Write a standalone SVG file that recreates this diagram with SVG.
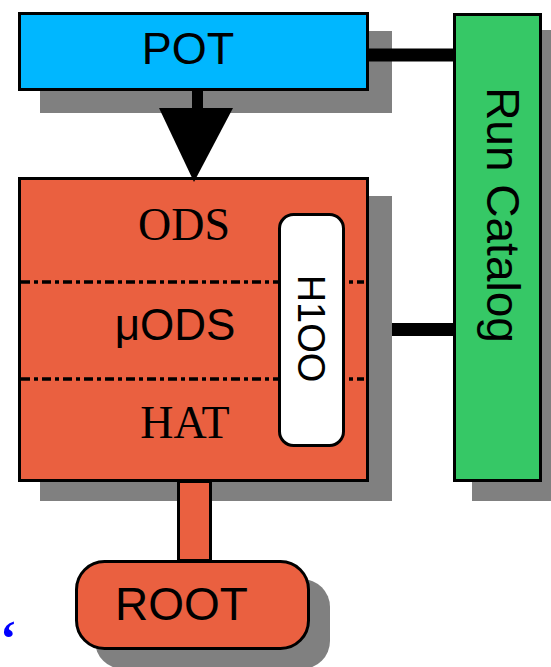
<svg xmlns="http://www.w3.org/2000/svg" width="551" height="667" viewBox="0 0 551 667">
<style>
.sh{fill:#808080}
.bx{stroke:#000;stroke-width:3}
.sans{font-family:"Liberation Sans",Arial,sans-serif;fill:#000}
.serif{font-family:"Liberation Serif","Times New Roman",serif;fill:#000}
.dash{stroke:#000;stroke-width:3.5;stroke-dasharray:9 4 4 4;fill:none}
</style>
<rect width="551" height="667" fill="#fff"/>
<g id="pot">
<rect class="sh" x="40" y="31" width="352" height="82"/>
<rect class="bx" x="19.5" y="13.5" width="348" height="76" fill="#00B7FF"/>
<text class="sans" x="188" y="64" font-size="45" text-anchor="middle">POT</text>
</g>
<g id="data">
<rect class="sh" x="40" y="196" width="352" height="305"/>
<rect class="bx" x="19.5" y="178.5" width="348" height="302" fill="#EA6040"/>
<line class="dash" x1="21" y1="282" x2="364" y2="282"/>
<line class="dash" x1="21" y1="379" x2="364" y2="379"/>
<text class="serif" x="184" y="240" font-size="46" text-anchor="middle">ODS</text>
<text class="sans" x="175" y="340" font-size="44" text-anchor="middle">μODS</text>
<text class="serif" x="185" y="438" font-size="46" text-anchor="middle">HAT</text>
</g>
<g id="h1oo">
<rect class="bx" x="279.5" y="214.5" width="64" height="231" rx="14" fill="#fff"/>
<text class="sans" font-size="38" text-anchor="middle" transform="translate(298,328.5) rotate(90)">H1OO</text>
</g>
<g id="runcatalog">
<rect class="sh" x="472" y="30" width="86" height="471"/>
<rect class="bx" x="454.5" y="14.5" width="86" height="466" fill="#36C866"/>
<text class="sans" font-size="46" text-anchor="middle" transform="translate(487,215) rotate(90)">Run Catalog</text>
</g>
<g id="root">
<rect class="sh" x="95" y="579" width="235" height="90" rx="28"/>
<rect class="bx" x="76.5" y="561.5" width="232" height="87" rx="28" fill="#EA6040"/>
<text class="sans" x="181.5" y="620" font-size="46" text-anchor="middle">ROOT</text>
</g>
<g id="connectors">
<rect x="192" y="89" width="11" height="20" fill="#000"/>
<polygon points="159,108 233,108 194,182" fill="#000"/>
<line x1="369" y1="55" x2="454" y2="55" stroke="#000" stroke-width="13"/>
<line x1="392" y1="329.5" x2="454" y2="329.5" stroke="#000" stroke-width="13"/>
<rect class="bx" x="178.5" y="481.5" width="32" height="79" fill="#EA6040"/>
</g>
<text x="0" y="655" font-family="'Liberation Serif',serif" font-weight="bold" font-size="50" fill="#0000FF">‘</text>
</svg>
